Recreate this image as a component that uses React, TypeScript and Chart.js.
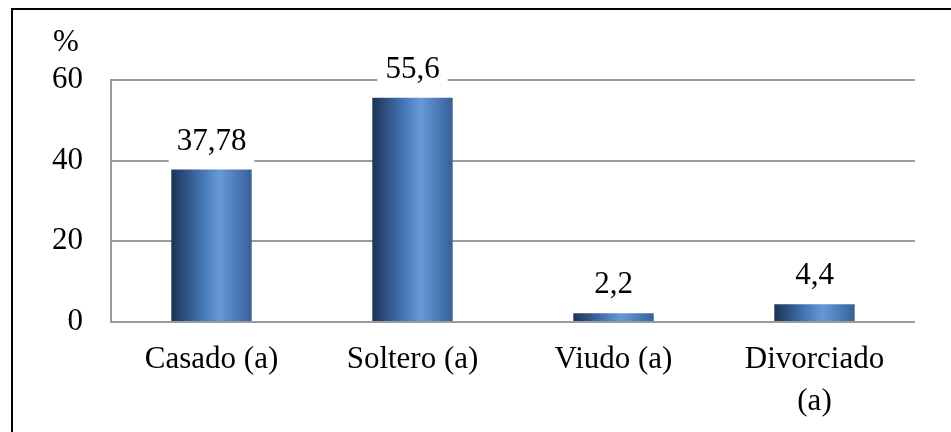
import React, { useEffect, useRef } from "react";
import { Chart, registerables } from "chart.js";

Chart.register(...registerables);

const categories: (string | string[])[] = ["Casado (a)", "Soltero (a)", "Viudo (a)", ["Divorciado", "(a)"]];
const values: number[] = [37.78, 55.6, 2.2, 4.4];
const valueLabels: string[] = values.map((v) => String(v).replace(".", ","));
const yTicks: number[] = [0, 20, 40, 60];
const yUnit = "%";

const FONT = "'Liberation Serif', 'Times New Roman', serif";
const FSIZE = 31;

export default function App() {
  const ref = useRef<HTMLCanvasElement | null>(null);

  useEffect(() => {
    const canvas = ref.current;
    if (!canvas) return;

    const barGradient = (c: any) => {
      const chart = c.chart;
      const xs = chart.scales?.x;
      const area = chart.chartArea;
      if (!xs || !area) return "#4a78b4";
      const cx = xs.getPixelForValue(c.dataIndex);
      const w = (area.right - area.left) / categories.length * 0.4;
      const g = chart.ctx.createLinearGradient(cx - w / 2, 0, cx + w / 2, 0);
      g.addColorStop(0, "#1c3354");
      g.addColorStop(0.15, "#2b4d7c");
      g.addColorStop(0.42, "#4a7cbd");
      g.addColorStop(0.6, "#6898d5");
      g.addColorStop(0.85, "#4776b3");
      g.addColorStop(1, "#395f95");
      return g;
    };

    const labelPlugin = {
      id: "valueLabels",
      afterDatasetsDraw(chart: any) {
        const ctx = chart.ctx;
        const meta = chart.getDatasetMeta(0);
        ctx.save();
        ctx.font = `${FSIZE}px ${FONT}`;
        ctx.textAlign = "center";
        ctx.textBaseline = "middle";
        meta.data.forEach((el: any, i: number) => {
          const text = valueLabels[i];
          const tw = ctx.measureText(text).width;
          const cy = el.y - 28;
          ctx.fillStyle = "#ffffff";
          ctx.fillRect(el.x - tw / 2 - 8, cy - 17, tw + 16, 38);
          ctx.fillStyle = "#000000";
          ctx.fillText(text, el.x, cy);
        });
        ctx.restore();
      },
    };

    const unitPlugin = {
      id: "unitLabel",
      afterDraw(chart: any) {
        const ctx = chart.ctx;
        ctx.save();
        ctx.font = `${FSIZE}px ${FONT}`;
        ctx.textAlign = "left";
        ctx.textBaseline = "middle";
        ctx.fillStyle = "#000";
        ctx.fillText(yUnit, 53, chart.chartArea.top - 37);
        ctx.restore();
      },
    };

    const chart = new Chart(canvas, {
      type: "bar",
      data: {
        labels: categories,
        datasets: [
          {
            data: values,
            backgroundColor: barGradient,
            borderWidth: 0,
            barPercentage: 0.4,
            categoryPercentage: 1,
          },
        ],
      },
      options: {
        animation: false,
        responsive: false,
        maintainAspectRatio: false,
        layout: { padding: { left: 0, top: 80, right: 36, bottom: 0 } },
        plugins: {
          legend: { display: false },
          tooltip: { enabled: false },
        },
        scales: {
          x: {
            grid: { display: false, drawTicks: false },
            border: { display: false },
            ticks: {
              color: "#000",
              font: { family: FONT, size: FSIZE, lineHeight: 1.35 },
              padding: 17,
              maxRotation: 0,
              autoSkip: false,
            },
            afterFit: (s: any) => {
              s.height = 110;
            },
          },
          y: {
            min: 0,
            max: 60,
            afterBuildTicks: (s: any) => {
              s.ticks = yTicks.map((v) => ({ value: v }));
            },
            grid: { color: "#9b9b9b", lineWidth: 2, drawTicks: false },
            border: { display: true, color: "#9b9b9b", width: 2 },
            ticks: {
              color: "#000",
              font: { family: FONT, size: FSIZE },
              padding: 28,
            },
            afterFit: (s: any) => {
              s.width = 111;
            },
          },
        },
      },
      plugins: [labelPlugin, unitPlugin],
    });

    return () => chart.destroy();
  }, []);

  return (
    <div
      style={{
        position: "fixed",
        left: 0,
        top: 0,
        width: 951,
        height: 432,
        overflow: "hidden",
        background: "#fff",
      }}
    >
      <canvas
        ref={ref}
        width={951}
        height={432}
        style={{ position: "absolute", left: 0, top: 0, width: 951, height: 432 }}
      />
      <div
        style={{
          position: "absolute",
          left: 11,
          top: 8,
          width: 2000,
          height: 2000,
          borderLeft: "2px solid #000",
          borderTop: "2px solid #000",
          pointerEvents: "none",
        }}
      />
    </div>
  );
}
